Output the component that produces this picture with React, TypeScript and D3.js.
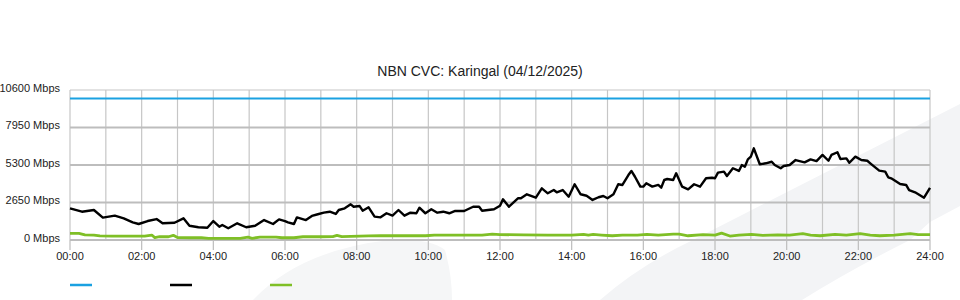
import React from "react";
import * as d3 from "d3";

const TITLE = "NBN CVC: Karingal (04/12/2025)";
const Y_TICKS = [0, 2650, 5300, 7950, 10600];
const X_TICK_HOURS = [0, 2, 4, 6, 8, 10, 12, 14, 16, 18, 20, 22, 24];
const GRID_HOURS = d3.range(0, 25);

// [minute of day, Mbps]
const capacity: [number, number][] = [
  [0, 10000],
  [1440, 10000],
];

const download: [number, number][] = [
  [0, 2240], [20, 2000], [40, 2120], [55, 1580], [75, 1720], [90, 1530], [105, 1250], [115, 1130],
  [130, 1340], [145, 1480], [155, 1180], [175, 1220], [190, 1530], [200, 1010], [215, 900], [230, 870],
  [240, 1340], [250, 940], [255, 1060], [265, 830], [280, 1180], [295, 900], [310, 1010], [325, 1410],
  [340, 1130], [350, 1460], [360, 1340], [365, 1250], [375, 1130], [380, 1600], [395, 1410], [405, 1700],
  [415, 1820], [425, 1930], [435, 2000], [445, 1840], [450, 2120], [460, 2240], [470, 2520], [475, 2350],
  [485, 2400], [490, 2070], [500, 2310], [510, 1650], [520, 1600], [530, 1890], [540, 1720], [550, 2120],
  [560, 1720], [570, 1930], [580, 1890], [585, 2280], [595, 1890], [605, 2170], [615, 1930], [625, 2000],
  [635, 1890], [645, 2050], [660, 2050], [675, 2350], [685, 2350], [690, 2070], [710, 2170], [720, 2420],
  [725, 2880], [735, 2350], [750, 2950], [755, 2950], [765, 3230], [780, 2990], [790, 3650], [800, 3300],
  [810, 3530], [815, 3370], [825, 3530], [835, 3060], [845, 3940], [855, 3230], [865, 3130], [875, 2830],
  [885, 3020], [893, 3110], [900, 2950], [910, 3230], [918, 3940], [925, 3890], [935, 4590], [940, 4880],
  [946, 4470], [955, 3770], [960, 3770], [965, 4010], [975, 3770], [985, 3890], [990, 3700], [995, 4240],
  [1000, 4310], [1010, 4240], [1015, 4710], [1025, 3770], [1035, 3580], [1045, 3940], [1055, 3770], [1065, 4360],
  [1075, 4400], [1080, 4360], [1085, 4760], [1095, 4830], [1100, 4520], [1110, 5070], [1120, 4880], [1125, 5300],
  [1130, 5180], [1135, 5700], [1140, 5890], [1145, 6480], [1155, 5350], [1165, 5420], [1175, 5530], [1180, 5300],
  [1190, 5070], [1195, 5230], [1205, 5300], [1215, 5650], [1230, 5490], [1240, 5700], [1250, 5580], [1260, 6010],
  [1270, 5600], [1275, 6010], [1285, 6200], [1290, 5720], [1300, 5770], [1305, 5460], [1315, 5890], [1325, 5650],
  [1335, 5600], [1340, 5420], [1355, 4900], [1365, 4830], [1370, 4430], [1375, 4360], [1390, 3960], [1400, 3890],
  [1405, 3530], [1415, 3370], [1430, 2990], [1440, 3680],
];

const upload: [number, number][] = [
  [0, 470], [15, 470], [25, 360], [40, 350], [50, 290], [70, 280], [90, 280], [110, 280], [125, 280],
  [137, 350], [142, 170], [150, 230], [165, 230], [173, 330], [180, 170], [200, 160], [220, 160], [232, 120],
  [260, 120], [285, 120], [298, 200], [305, 120], [318, 200], [330, 210], [345, 210], [355, 160], [375, 160],
  [390, 230], [420, 230], [440, 240], [447, 330], [455, 240], [470, 260], [500, 290], [520, 300], [560, 300],
  [595, 300], [610, 350], [650, 350], [690, 350], [707, 420], [720, 380], [760, 360], [800, 350], [840, 350],
  [860, 400], [868, 350], [876, 400], [890, 350], [908, 300], [925, 350], [950, 350], [966, 400], [985, 350],
  [1010, 420], [1020, 420], [1035, 300], [1060, 380], [1080, 350], [1091, 490], [1105, 280], [1120, 350],
  [1141, 400], [1160, 330], [1185, 360], [1205, 350], [1227, 450], [1240, 350], [1256, 300], [1281, 400],
  [1300, 350], [1323, 450], [1340, 350], [1356, 300], [1380, 350], [1407, 450], [1420, 380], [1440, 380],
];

const SERIES = [
  { data: capacity, color: "#1aa1e1", width: 2 },
  { data: download, color: "#000000", width: 2.4 },
  { data: upload, color: "#7fbf26", width: 2.8 },
];

const W = 960;
const H = 300;
const M = { left: 70, right: 30, top: 90, bottom: 60 };

export default function App() {
  const x = d3.scaleLinear().domain([0, 1440]).range([M.left, W - M.right]);
  const y = d3.scaleLinear().domain([0, 10600]).range([H - M.bottom, M.top]);
  const line = d3
    .line<[number, number]>()
    .x((d) => x(d[0]))
    .y((d) => y(d[1]));
  const font = "'Liberation Sans', Arial, Helvetica, sans-serif";
  const fmtHour = (h: number) => `${String(h).padStart(2, "0")}:00`;

  return (
    <div style={{ position: "absolute", left: 0, top: 0 }}>
      <svg width={W} height={H} style={{ display: "block", background: "#fff" }} fontFamily={font}>
        {/* background watermark */}
        <path d="M600,300 Q640,265 693,240 L960,104 L960,206 L930,222 L910,240 Q850,270 802,300 Z" fill="#f3f4f6" />
        <path d="M253,300 Q300,250 390,240 Q430,238 445,250 Q452,275 452,300 Z" fill="#f5f6f7" />

        {/* grid */}
        {GRID_HOURS.map((h) => (
          <line key={"v" + h} x1={x(h * 60)} x2={x(h * 60)} y1={y(10600)} y2={y(0)} stroke="#c6c6c6" strokeWidth={1.2} />
        ))}
        {Y_TICKS.map((t) => (
          <line key={"h" + t} x1={x(0)} x2={x(1440)} y1={y(t)} y2={y(t)} stroke={t === 10600 ? "#c6c6c6" : "#bdbdbd"} strokeWidth={t === 10600 ? 1.2 : 2} />
        ))}

        {/* x ticks */}
        {X_TICK_HOURS.map((h) => (
          <g key={"xt" + h}>
            <line x1={x(h * 60)} x2={x(h * 60)} y1={y(0)} y2={y(0) + 10} stroke="#bdbdbd" strokeWidth={1.2} />
            <text x={x(h * 60)} y={y(0) + 20} textAnchor="middle" fontSize={11} fill="#222">
              {fmtHour(h)}
            </text>
          </g>
        ))}

        {/* y labels */}
        {Y_TICKS.map((t) => (
          <text key={"yl" + t} x={60} y={y(t) + 1.5} textAnchor="end" fontSize={11} fill="#222">
            {`${t} Mbps`}
          </text>
        ))}

        {/* series */}
        {SERIES.map((s, i) => (
          <path key={"s" + i} d={line(s.data) || ""} fill="none" stroke={s.color} strokeWidth={s.width} strokeLinejoin="round" />
        ))}

        {/* title */}
        <text x={W / 2} y={76} textAnchor="middle" fontSize={14} fill="#222">
          {TITLE}
        </text>

        {/* legend */}
        {SERIES.map((s, i) => (
          <line key={"lg" + i} x1={70 + i * 100} x2={92 + i * 100} y1={285} y2={285} stroke={s.color} strokeWidth={2.5} />
        ))}
      </svg>
    </div>
  );
}
